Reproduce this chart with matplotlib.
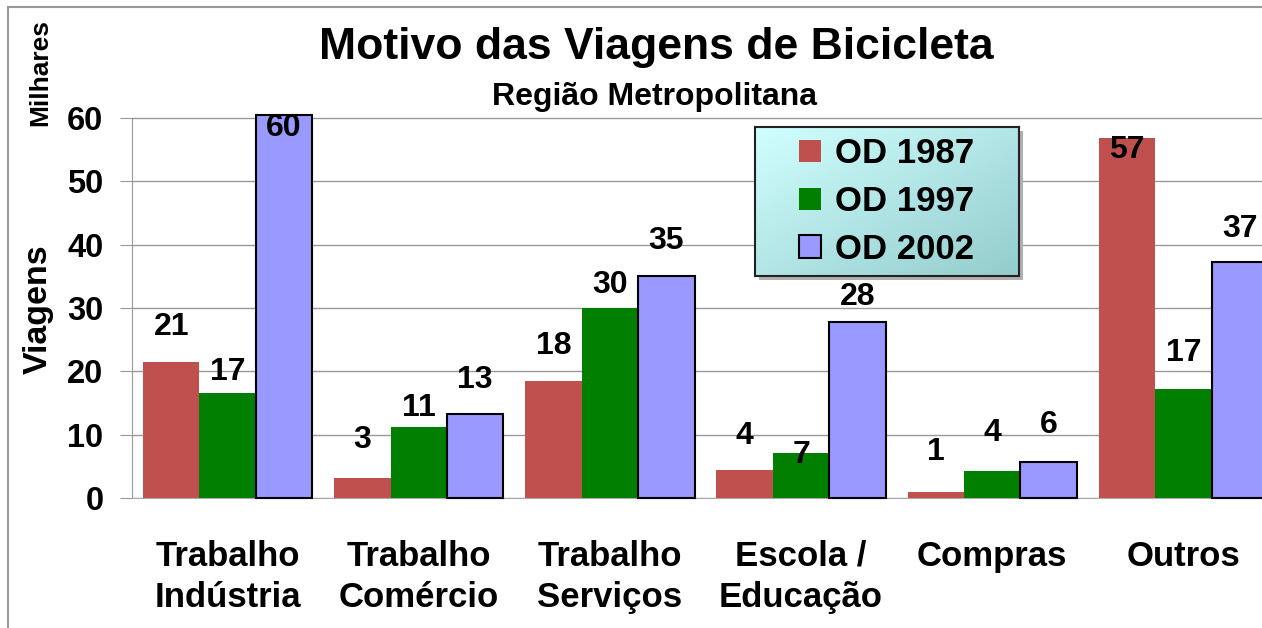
import matplotlib
matplotlib.use("Agg")
import matplotlib.pyplot as plt
import numpy as np
from matplotlib.patches import Rectangle

plt.rcParams["font.family"] = ["Liberation Sans", "DejaVu Sans"]
plt.rcParams["font.weight"] = "bold"

categories = ["Trabalho\nIndústria", "Trabalho\nComércio", "Trabalho\nServiços",
              "Escola /\nEducação", "Compras", "Outros"]
series = ["OD 1987", "OD 1997", "OD 2002"]
od1987 = [21.4, 3.2, 18.4, 4.4, 1.0, 56.8]
od1997 = [16.6, 11.2, 30.0, 7.1, 4.3, 17.2]
od2002 = [60.4, 13.3, 35.0, 27.8, 5.7, 37.2]
labels1987 = ["21", "3", "18", "4", "1", "57"]
labels1997 = ["17", "11", "30", "7", "4", "17"]
labels2002 = ["60", "13", "35", "28", "6", "37"]

# label centre offset above bar top, in pixels (as placed in the original)
dy1987 = [35, 38, 35, 34, 40, -12]
dy1997 = [21, 19, 23, -2, 38, 36]
dy2002 = [-13, 34, 35, 25, 37, 33]

colors = ["#C0504D", "#007F00", "#9999FF"]

W, H = 1262, 628
fig = plt.figure(figsize=(W / 100, H / 100), dpi=100)

# chart-area border (right and bottom edges fall outside the picture)
fig.patches.append(Rectangle((8 / W, -0.2), 1.2, 1.2 - 7 / H, transform=fig.transFigure,
                             fill=False, edgecolor="#999999", lw=1.5))

ax_l, ax_r = 132, 1279
y0, y60 = 498, 118
ppu = (y0 - y60) / 60
ytop = 61
ax = fig.add_axes([ax_l / W, 1 - y0 / H, (ax_r - ax_l) / W, ytop * ppu / H])

x = np.arange(len(categories))
bw = 0.295
vals = [od1987, od1997, od2002]
labs = [labels1987, labels1997, labels2002]
dys = [dy1987, dy1997, dy2002]
for i, (v, c) in enumerate(zip(vals, colors)):
    pos = x + (i - 1) * bw
    if i == 2:
        ax.bar(pos, v, bw, color=c, edgecolor="black", linewidth=1.5, label=series[i],
               zorder=3, clip_on=False)
    else:
        ax.bar(pos, v, bw, color=c, linewidth=0, label=series[i], zorder=3, clip_on=False)
    for p, val, t, d in zip(pos, v, labs[i], dys[i]):
        ax.annotate(t, (p, val), xytext=(0, d * 0.72), textcoords="offset points",
                    ha="center", va="center", fontsize=23, fontweight="bold", zorder=5)

ax.set_xlim(-0.5, len(categories) - 0.5)
ax.set_ylim(0, ytop)
ax.set_yticks(range(0, 61, 10))
ax.yaxis.grid(True, color="#999999", lw=1, zorder=0)
ax.set_axisbelow(True)
for s in ["top", "right"]:
    ax.spines[s].set_visible(False)
ax.spines["left"].set_color("#999999")
ax.spines["bottom"].set_color("#AAAAAA")
ax.spines["left"].set_bounds(0, 60)
ax.tick_params(axis="y", length=8.6, color="#999999", pad=12, labelsize=23.5)
ax.tick_params(axis="x", length=0, pad=30, labelsize=25)
ax.set_xticks(x)
ax.set_xticklabels(categories, linespacing=1.33)
for t in ax.get_xticklabels() + ax.get_yticklabels():
    t.set_fontweight("bold")

fig.text(656 / W, 1 - 47 / H, "Motivo das Viagens de Bicicleta", ha="center", va="center",
         fontsize=32, fontweight="bold")
fig.text(654 / W, 1 - 97 / H, "Região Metropolitana", ha="center", va="center",
         fontsize=23, fontweight="bold")
fig.text(40 / W, 1 - 72 / H, "Milhares", rotation=90, ha="center", va="center",
         fontsize=19, fontweight="bold")
fig.text(38 / W, 1 - 309 / H, "Viagens", rotation=90, ha="center", va="center",
         fontsize=24.5, fontweight="bold")

# legend box with shadow and gradient
lx0, ly0, lx1, ly1 = 755, 127, 1019, 276
fig.patches.append(Rectangle(((lx0 + 4) / W, 1 - (ly1 + 4) / H), (lx1 - lx0) / W,
                             (ly1 - ly0) / H, transform=fig.transFigure,
                             facecolor="#B0B0B0", edgecolor="none", zorder=4))
gax = fig.add_axes([lx0 / W, 1 - ly1 / H, (lx1 - lx0) / W, (ly1 - ly0) / H], zorder=5)
gx, gy = np.meshgrid(np.linspace(0, 1, 200), np.linspace(0, 1, 100))
g = (gx + gy) / 2
c0 = np.array([0.82, 1.0, 1.0])
c1 = np.array([0.58, 0.80, 0.80])
img = c0[None, None, :] * (1 - g[..., None]) + c1[None, None, :] * g[..., None]
gax.imshow(img, aspect="auto", extent=(0, 1, 0, 1))
gax.set_xticks([])
gax.set_yticks([])
for s in gax.spines.values():
    s.set_color("#222222")
    s.set_linewidth(1.5)
handles, lbls = ax.get_legend_handles_labels()
gax.legend(handles, lbls, loc="center", frameon=False,
           handlelength=0.62, handleheight=0.62, handletextpad=0.42,
           labelspacing=0.42, prop={"weight": "bold", "size": 25})

fig.savefig("out.png", dpi=100)
